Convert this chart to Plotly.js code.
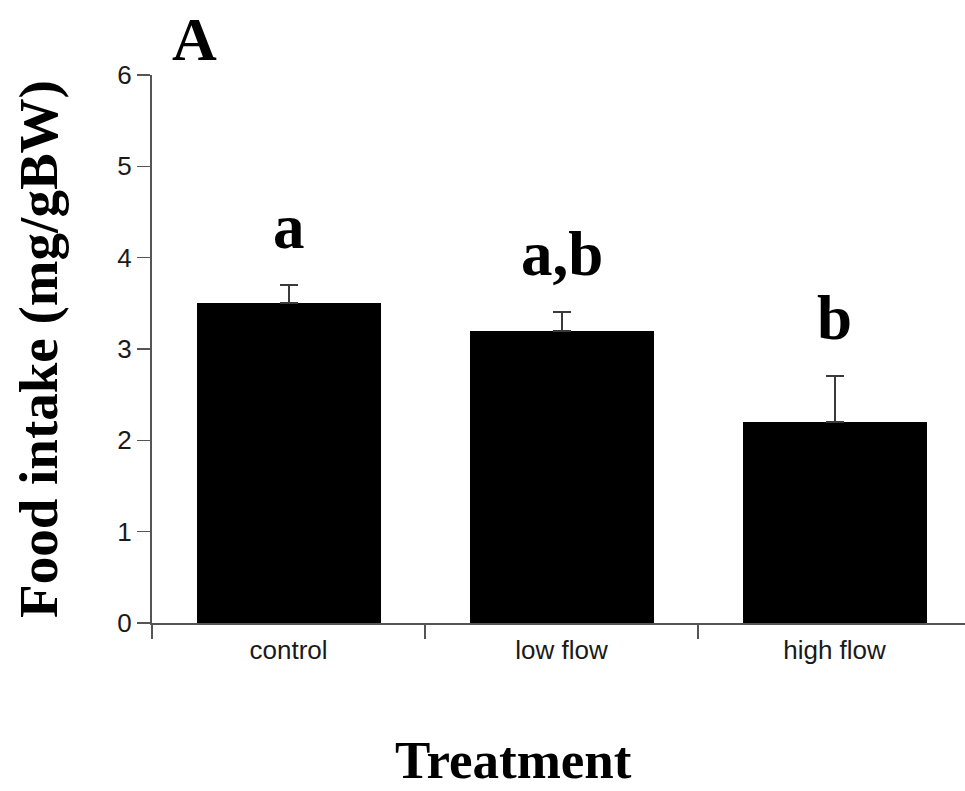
<!DOCTYPE html>
<html>
<head>
<meta charset="utf-8">
<script src="https://cdn.plot.ly/plotly-3.0.1.min.js"></script>
<style>html,body{margin:0;padding:0;background:#fff;}#chart{width:965px;height:791px;}</style>
</head>
<body>
<div id="chart"></div>
<script>
const categories = ["control", "low flow", "high flow"];
const foodIntake = [3.5, 3.2, 2.2];
const errorUp = [0.2, 0.2, 0.5];
const sigLabels = ["a", "a,b", "b"];
const yTickVals = [0, 1, 2, 3, 4, 5, 6];
const panelLabel = "A";
const xTitle = "Treatment";
const yTitle = "Food intake (mg/gBW)";

const serif = "Liberation Serif, Times New Roman, serif";
const sans = "Liberation Sans, Arial, Helvetica, sans-serif";

const trace = {
  type: "bar",
  x: categories,
  y: foodIntake,
  width: 0.674,
  marker: {color: "#000000", line: {width: 0}},
  error_y: {
    type: "data",
    symmetric: false,
    array: errorUp,
    arrayminus: errorUp.map(() => 0),
    color: "#3a3a3a",
    thickness: 2,
    width: 9
  },
  hoverinfo: "none"
};

const annotations = categories.map((c, i) => ({
  x: c, y: foodIntake[i] + errorUp[i],
  xref: "x", yref: "y",
  text: "<b>" + sigLabels[i] + "</b>",
  showarrow: false,
  xanchor: "center", yanchor: "bottom",
  yshift: 21,
  font: {family: serif, size: 63, color: "#000"}
}));
annotations.push({
  xref: "paper", yref: "paper",
  x: 0.052, y: 1, xanchor: "center", yanchor: "bottom",
  text: "<b>" + panelLabel + "</b>",
  showarrow: false,
  font: {family: serif, size: 62, color: "#000"}
});
annotations.push({
  xref: "paper", yref: "paper",
  x: 0.445, y: 0, xanchor: "center", yanchor: "top",
  yshift: -106,
  text: "<b>" + xTitle + "</b>",
  showarrow: false,
  font: {family: serif, size: 53, color: "#000"}
});

const layout = {
  width: 965, height: 791,
  margin: {l: 152, r: 0, t: 75, b: 168, pad: 0},
  paper_bgcolor: "#fff", plot_bgcolor: "#fff",
  showlegend: false,
  xaxis: {
    type: "category",
    range: [-0.5, 2.478],
    tickson: "boundaries",
    ticks: "outside", ticklen: 14, tickwidth: 1.5, tickcolor: "#555",
    showline: true, linecolor: "#555", linewidth: 2,
    showgrid: false, zeroline: false,
    tickfont: {family: sans, size: 26, color: "#1a1a1a"},
    ticklabelstandoff: 3,
    automargin: false
  },
  yaxis: {
    range: [0, 6],
    tickvals: yTickVals,
    ticks: "outside", ticklen: 13, tickwidth: 1.5, tickcolor: "#555",
    showline: true, linecolor: "#555", linewidth: 2,
    showgrid: false, zeroline: false,
    tickfont: {family: sans, size: 26, color: "#1a1a1a"},
    title: {text: "<b>" + yTitle + "</b>", standoff: 42, font: {family: serif, size: 55, color: "#000"}},
    automargin: false
  },
  annotations: annotations,
  bargap: 0
};

Plotly.newPlot("chart", [trace], layout, {displayModeBar: false, staticPlot: true});
</script>
</body>
</html>
